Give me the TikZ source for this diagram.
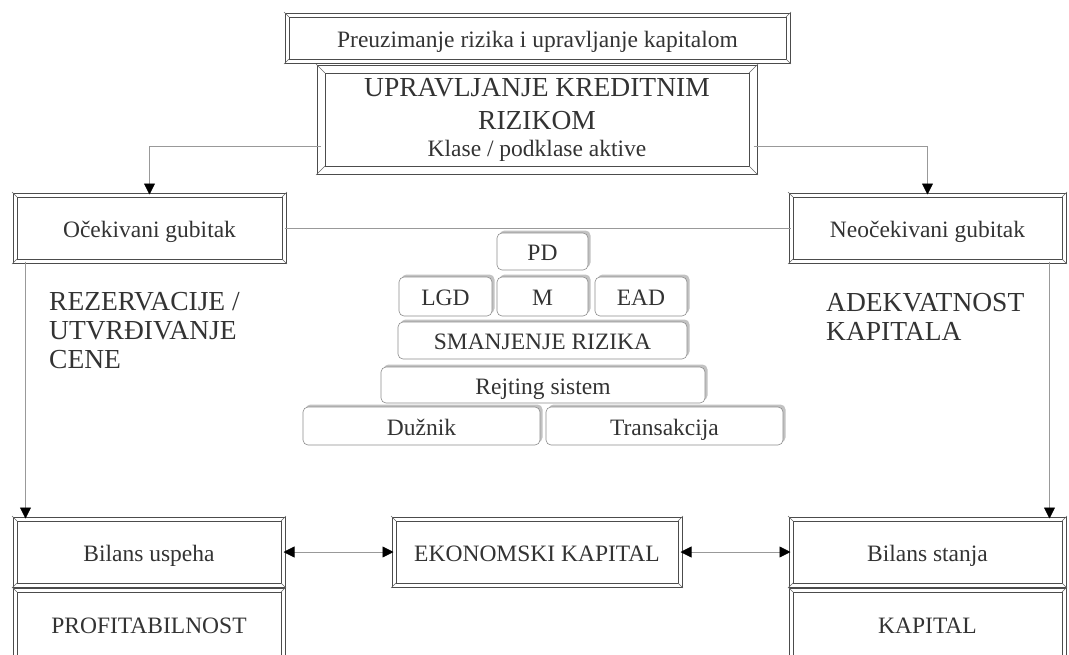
\documentclass[tikz,border=0pt]{standalone}
\usepackage{fontspec}
\setmainfont{Liberation Serif}
\usetikzlibrary{positioning, calc, arrows.meta, shadows}

% small diagonals at the corners of a bevelled box
\newcommand{\bevcorners}[2]{%
  \foreach \anc/\sx/\sy in {north west/-1/-1, north east/1/-1, south west/-1/1, south east/1/1}
    {\draw[black!60, line width=0.6pt] ([shift={(\sx*#2,\sy*#2)}]#1.\anc) -- ([shift={(-\sx*#2,-\sy*#2)}]#1.\anc);}%
}

\begin{document}
\begin{tikzpicture}[x=1pt, y=-1pt,
    txt/.style={text=black!80, font=\fontsize{23.5}{26}\selectfont},
    bigtxt/.style={text=black!80, font=\fontsize{27.5}{29}\selectfont},
    oneline/.style={text height=18.6pt, text depth=0pt},
    bevel/.style={txt, draw=black!70, line width=1pt, double=white, double distance=3pt, inner sep=0pt, align=center},
    brick/.style={txt, oneline, draw=black!45, line width=0.6pt, fill=white, rounded corners=5pt, inner sep=0pt,
        drop shadow={shadow xshift=2.5pt, shadow yshift=2.5pt, fill=black!40, opacity=0.6}},
    link/.style={draw=black!40, line width=0.8pt},
    arr/.style={link, -{Triangle[length=11pt, width=11pt, color=black]}},
    dblarr/.style={link, {Triangle[length=11pt, width=11pt, color=black]}-{Triangle[length=11pt, width=11pt, color=black]}}
  ]
        \useasboundingbox (0,0) rectangle (1069,654);

        % Top boxes
        \node[bevel, oneline, minimum width=501, minimum height=46] (preuz) at (537.5,38) {Preuzimanje rizika i upravljanje kapitalom};
        \node[bevel, double distance=7pt, minimum width=432, minimum height=101, font=\fontsize{27.5}{33}\selectfont] (upravlj) at (537,119.5)
            {UPRAVLJANJE KREDITNIM\\RIZIKOM\\[-6pt]{\fontsize{23.5}{26}\selectfont Klase / podklase aktive}};

        % Expected and unexpected loss
        \node[bevel, oneline, minimum width=269, minimum height=66] (ocek) at (149.5,228) {Očekivani gubitak};
        \node[bevel, oneline, minimum width=273, minimum height=66] (neocek) at (927.5,228) {Neočekivani gubitak};

        \node[bigtxt, anchor=west, align=left, inner sep=0pt] (rezerv) at (49,331) {REZERVACIJE /\\UTVRĐIVANJE\\CENE};
        \node[bigtxt, anchor=west, align=left, inner sep=0pt] (adekv) at (826,316.5) {ADEKVATNOST\\KAPITALA};

        % Pyramid of risk parameters
        \node[brick, minimum width=91, minimum height=37] (pd) at (542.5,251.5) {PD};
        \node[brick, minimum width=93, minimum height=39] (lgd) at (445.5,296.5) {LGD};
        \node[brick, minimum width=91, minimum height=39] (mat) at (542.5,296.5) {M};
        \node[brick, minimum width=92, minimum height=39] (ead) at (641,296.5) {EAD};
        \node[brick, minimum width=289, minimum height=37] (smanj) at (542.5,340.5) {SMANJENJE RIZIKA};
        \node[brick, minimum width=324, minimum height=36] (rejting) at (543,385) {Rejting sistem};
        \node[brick, minimum width=237, minimum height=38] (duznik) at (421.5,426) {Dužnik};
        \node[brick, minimum width=237, minimum height=38] (trans) at (664.5,426) {Transakcija};

        % Bottom boxes
        \node[bevel, oneline, minimum width=268, minimum height=66] (bu) at (149,552) {Bilans uspeha};
        \node[bevel, oneline, minimum width=268, minimum height=68] (prof) at (149,624) {PROFITABILNOST};
        \node[bevel, oneline, minimum width=286, minimum height=66] (ek) at (537,552) {EKONOMSKI KAPITAL};
        \node[bevel, oneline, minimum width=273, minimum height=66] (bs) at (927.5,552) {Bilans stanja};
        \node[bevel, oneline, minimum width=273, minimum height=68] (kap) at (927.5,624) {KAPITAL};

        \foreach \b in {preuz, ocek, neocek, bu, prof, ek, bs, kap}
            {\bevcorners{\b}{2.5}}
        \bevcorners{upravlj}{4.5}

        % Connectors
        \draw[arr] ([yshift=-26.5pt]upravlj.west) -| (ocek.north);
        \draw[arr] ([yshift=-26.5pt]upravlj.east) -| (neocek.north);
        \draw[link] (ocek.east) -- (neocek.west);
        \draw[arr] ([xshift=11pt]ocek.south west) -- ([xshift=11pt]bu.north west);
        \draw[arr] ([xshift=-15pt]neocek.south east) -- ([xshift=-15pt]bs.north east);
        \draw[dblarr] (bu.east) -- (ek.west);
        \draw[dblarr] (ek.east) -- (bs.west);

    \end{tikzpicture}
\end{document}
